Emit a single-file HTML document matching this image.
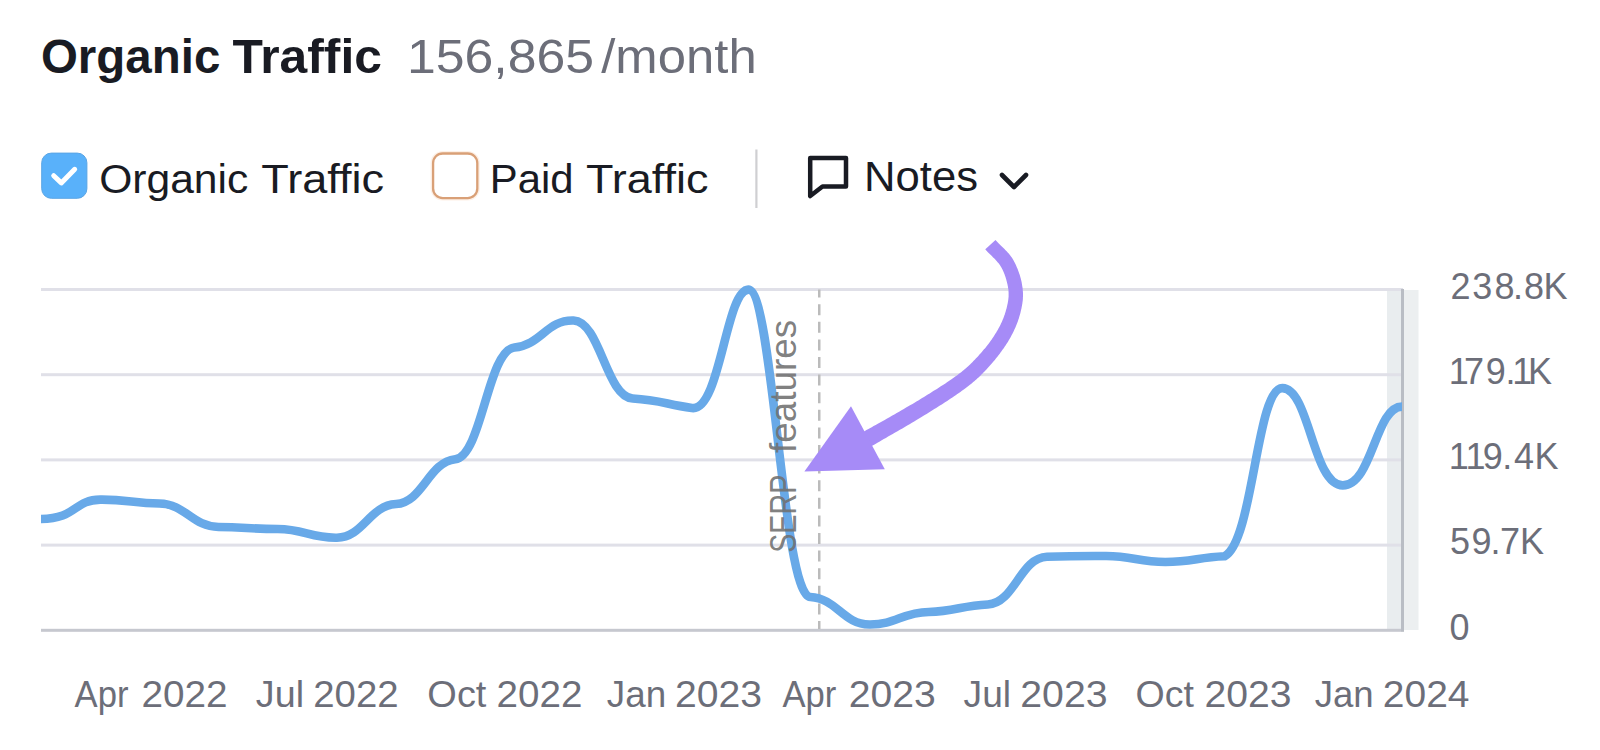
<!DOCTYPE html>
<html lang="en">
<head>
<meta charset="utf-8">
<title>Organic Traffic</title>
<style>
html,body{margin:0;padding:0;background:#fff;}
body{width:1600px;height:750px;overflow:hidden;font-family:'Liberation Sans', Arial, Helvetica, sans-serif;}
svg{display:block;}
svg text{font-family:'Liberation Sans', Arial, Helvetica, sans-serif;white-space:pre;}
</style>
</head>
<body>
<svg width="1600" height="750" viewBox="0 0 1600 750">
<rect width="1600" height="750" fill="#ffffff"/>
<g id="header">
<text y="72.6" font-size="48.5" fill="#191b23" font-weight="bold"><tspan x="40.94" textLength="179.41" lengthAdjust="spacingAndGlyphs">Organic</tspan> <tspan x="232.57" textLength="149.33" lengthAdjust="spacingAndGlyphs">Traffic</tspan></text>
<text y="72.7" font-size="48" fill="#6c6e79"><tspan x="406.94" textLength="187.02" lengthAdjust="spacingAndGlyphs">156,865</tspan><tspan x="601.25" textLength="155.41" lengthAdjust="spacingAndGlyphs">/month</tspan></text>
</g>
<g id="legend">
<rect x="41.7" y="153.1" width="45.2" height="45.2" rx="9.6" fill="#59b1fa" stroke="#5ba5e4" stroke-width="1"/>
<path d="M53.7,175.7 L61.3,182.9 L74.7,169.3" fill="none" stroke="#fff" stroke-width="5" stroke-linecap="round" stroke-linejoin="round"/>
<text y="192.8" font-size="41.5" fill="#191b23"><tspan x="99.15" textLength="149.2" lengthAdjust="spacingAndGlyphs">Organic</tspan> <tspan x="261.31" textLength="122.77" lengthAdjust="spacingAndGlyphs">Traffic</tspan></text>
<rect x="433.1" y="153.5" width="44.2" height="44.6" rx="9.6" fill="none" stroke="#fdf0e6" stroke-width="5"/>
<rect x="433.1" y="153.5" width="44.2" height="44.6" rx="9.6" fill="#fff" stroke="#d9a077" stroke-width="2.3"/>
<text y="192.8" font-size="41.5" fill="#191b23"><tspan x="489.77" textLength="83.82" lengthAdjust="spacingAndGlyphs">Paid</tspan> <tspan x="585.92" textLength="122.47" lengthAdjust="spacingAndGlyphs">Traffic</tspan></text>
<rect x="755.3" y="149.5" width="2.2" height="58.5" fill="#cfcfd2"/>
<path d="M810.2,158.1 H846 V186.5 H822.5 L810.2,196 Z" fill="none" stroke="#191b23" stroke-width="4.5" stroke-linejoin="round"/>
<text y="190.7" font-size="42.5" fill="#191b23"><tspan x="864.12" textLength="113.96" lengthAdjust="spacingAndGlyphs">Notes</tspan></text>
<path d="M1002,175 L1014,187 L1026,175" fill="none" stroke="#191b23" stroke-width="4.6" stroke-linecap="round" stroke-linejoin="round"/>
</g>
<g id="chart">
<rect x="1387" y="289" width="15" height="341" fill="#e9edef"/>
<rect x="1403.5" y="290" width="15" height="340" fill="#eceff0"/>
<rect x="41" y="288.0" width="1362" height="3" fill="#e0e0e8"/>
<rect x="41" y="373.2" width="1362" height="3" fill="#e0e0e8"/>
<rect x="41" y="458.4" width="1362" height="3" fill="#e0e0e8"/>
<rect x="41" y="543.6" width="1362" height="3" fill="#e0e0e8"/>
<rect x="41" y="628.8" width="1363" height="3" fill="#c6c8cf"/>
<rect x="1401" y="289" width="3" height="342.5" fill="#b9bdc4"/>
<line x1="819.25" y1="289.6" x2="819.25" y2="629" stroke="#bbbbbb" stroke-width="2.5" stroke-dasharray="11 6.6" stroke-dashoffset="3"/>
<path d="M41.00,519.00C76.50,519.00 73.55,499.88 100.17,499.60C126.80,499.32 132.72,503.01 159.35,503.50C185.98,503.99 191.89,526.54 218.52,527.00C245.15,527.46 251.07,528.81 277.70,529.00C304.32,529.19 310.24,538.15 336.87,537.70C363.50,537.25 369.42,505.41 396.04,504.00C422.67,502.59 428.59,462.02 455.22,459.20C481.85,456.38 487.76,350.00 514.39,347.50C541.02,345.00 546.94,319.58 573.57,320.50C600.19,321.42 606.11,396.93 632.74,398.50C659.37,400.07 665.28,404.01 691.91,408.00C720.11,412.23 725.75,290.28 748.30,289.60C773.08,288.86 782.38,595.61 810.26,597.00C836.89,598.33 842.81,624.23 869.43,624.50C896.06,624.77 901.98,612.36 928.61,612.00C955.24,611.64 961.15,605.50 987.78,604.50C1014.41,603.50 1020.33,557.57 1046.96,556.70C1073.58,555.83 1079.50,555.90 1106.13,556.00C1132.76,556.10 1138.68,561.99 1165.30,562.00C1191.93,562.01 1197.85,557.37 1224.48,556.30C1253.49,541.79 1256.39,387.32 1282.50,388.10C1309.65,388.91 1312.66,485.40 1342.83,485.40C1372.41,485.40 1375.37,406.60 1402.00,406.60" fill="none" stroke="#68a9e8" stroke-width="8.6" stroke-linecap="butt" stroke-linejoin="round"/>
<text transform="translate(796.3,551.3) rotate(-90)" font-size="36.5" fill="#707070" fill-opacity="0.9"><tspan x="-1.56" textLength="77.64" lengthAdjust="spacingAndGlyphs">SERP</tspan> <tspan x="98.3" textLength="133.1" lengthAdjust="spacingAndGlyphs">features</tspan></text>
<path d="M985.3,249.3L986.0,250.2L986.8,251.0L987.6,251.9L988.4,252.7L989.2,253.5L990.0,254.3L990.8,255.1L991.6,255.8L992.3,256.6L993.1,257.4L993.8,258.1L994.6,258.8L995.3,259.5L995.9,260.3L996.6,261.0L997.2,261.7L997.8,262.4L998.4,263.1L999.0,263.8L999.5,264.5L1000.0,265.3L1000.5,266.0L1000.9,266.7L1001.4,267.4L1001.8,268.2L1002.2,269.1L1002.7,270.0L1003.1,270.9L1003.5,271.8L1003.9,272.8L1004.3,273.8L1004.7,274.7L1005.0,275.7L1005.4,276.8L1005.7,277.8L1006.0,278.8L1006.3,279.8L1006.6,280.9L1006.9,281.9L1007.1,282.9L1007.4,283.9L1007.6,284.9L1007.8,286.0L1008.0,286.9L1008.1,287.9L1008.3,288.9L1008.4,289.8L1008.5,290.7L1008.5,291.6L1008.6,292.5L1008.6,293.3L1008.6,294.2L1008.6,295.0L1008.6,295.9L1008.6,296.8L1008.5,297.6L1008.4,298.5L1008.3,299.4L1008.2,300.2L1008.1,301.1L1007.9,302.0L1007.8,302.8L1007.6,303.7L1007.4,304.6L1007.2,305.5L1007.0,306.4L1006.8,307.3L1006.6,308.2L1006.3,309.2L1006.0,310.1L1005.8,311.0L1005.5,312.0L1005.2,312.9L1004.9,313.8L1004.7,314.7L1004.3,315.6L1004.0,316.4L1003.7,317.3L1003.4,318.2L1003.0,319.1L1002.6,320.0L1002.2,320.9L1001.9,321.8L1001.4,322.7L1001.0,323.6L1000.6,324.5L1000.1,325.4L999.7,326.3L999.2,327.2L998.7,328.1L998.2,329.0L997.7,329.9L997.2,330.8L996.6,331.7L996.1,332.7L995.5,333.6L994.9,334.6L994.3,335.5L993.7,336.5L993.0,337.4L992.3,338.4L991.7,339.4L990.9,340.4L990.2,341.4L989.5,342.4L988.8,343.4L988.0,344.4L987.2,345.4L986.4,346.4L985.7,347.4L984.9,348.4L984.0,349.3L983.2,350.3L982.4,351.3L981.6,352.2L980.8,353.2L979.9,354.1L979.1,355.1L978.3,356.0L977.4,356.9L976.6,357.8L975.8,358.6L975.0,359.5L974.2,360.3L973.4,361.1L972.6,361.9L971.8,362.7L971.0,363.5L970.3,364.2L969.5,365.0L968.7,365.7L967.9,366.5L967.0,367.2L966.2,368.0L965.3,368.7L964.4,369.5L963.5,370.3L962.5,371.1L961.5,371.9L960.4,372.7L959.3,373.6L958.1,374.4L956.9,375.4L955.6,376.3L954.3,377.2L952.9,378.2L951.5,379.2L950.0,380.2L948.5,381.3L947.0,382.3L945.4,383.4L943.8,384.4L942.1,385.5L940.4,386.6L938.7,387.7L936.9,388.9L935.1,390.0L933.3,391.1L931.5,392.3L929.7,393.4L927.8,394.6L925.9,395.7L924.0,396.9L922.1,398.0L920.2,399.2L918.3,400.4L916.4,401.5L914.5,402.7L912.5,403.9L910.5,405.1L908.3,406.3L906.1,407.6L903.8,409.0L901.5,410.3L899.1,411.7L896.7,413.0L894.3,414.4L891.9,415.8L889.5,417.2L887.1,418.5L884.7,419.9L882.4,421.2L880.1,422.5L877.8,423.7L875.7,424.9L873.6,426.1L871.7,427.2L869.8,428.2L868.0,429.2L866.4,430.1L864.9,431.0L863.6,431.8L862.4,432.4L861.4,433.0L860.4,433.5L859.7,434.0L859.0,434.4L858.4,434.7L857.9,435.0L857.5,435.3L857.1,435.5L856.9,435.6L856.6,435.8L856.4,435.9L856.3,436.0L856.1,436.1L856.0,436.1L855.9,436.2L855.9,436.2L855.8,436.2L855.8,436.3L855.7,436.3L855.6,436.4L855.4,436.5L855.1,436.7L854.8,436.8L863.2,451.2L863.5,451.0L863.8,450.8L864.0,450.7L864.2,450.5L864.4,450.4L864.5,450.3L864.7,450.3L864.8,450.2L864.8,450.2L864.8,450.2L864.9,450.1L865.0,450.1L865.1,450.0L865.3,449.9L865.5,449.7L865.9,449.5L866.3,449.3L866.7,449.0L867.3,448.7L868.0,448.3L868.7,447.9L869.6,447.3L870.7,446.7L871.8,446.0L873.1,445.3L874.6,444.4L876.2,443.5L877.9,442.5L879.8,441.5L881.7,440.3L883.8,439.1L885.9,437.9L888.1,436.6L890.4,435.3L892.7,434.0L895.1,432.6L897.5,431.2L899.9,429.8L902.4,428.4L904.8,427.0L907.2,425.6L909.6,424.2L911.9,422.8L914.2,421.4L916.5,420.1L918.6,418.8L920.7,417.5L922.7,416.3L924.7,415.1L926.6,413.9L928.5,412.7L930.4,411.5L932.4,410.3L934.3,409.1L936.2,407.9L938.0,406.7L939.9,405.6L941.8,404.4L943.6,403.2L945.4,402.0L947.2,400.9L948.9,399.7L950.7,398.6L952.4,397.4L954.1,396.3L955.7,395.2L957.3,394.1L958.9,393.0L960.4,391.9L961.9,390.8L963.4,389.8L964.8,388.7L966.1,387.7L967.4,386.7L968.7,385.7L969.9,384.8L971.0,383.9L972.2,383.0L973.2,382.1L974.3,381.2L975.3,380.3L976.3,379.4L977.2,378.6L978.2,377.7L979.1,376.9L980.0,376.0L980.9,375.2L981.7,374.3L982.6,373.4L983.4,372.6L984.3,371.7L985.1,370.8L986.0,369.9L986.8,369.0L987.7,368.1L988.6,367.1L989.5,366.1L990.4,365.1L991.3,364.1L992.2,363.1L993.0,362.0L993.9,361.0L994.8,359.9L995.7,358.8L996.5,357.8L997.4,356.7L998.3,355.6L999.1,354.5L999.9,353.4L1000.7,352.3L1001.5,351.2L1002.3,350.1L1003.1,349.0L1003.9,347.9L1004.6,346.8L1005.4,345.7L1006.1,344.6L1006.8,343.5L1007.5,342.5L1008.1,341.4L1008.8,340.3L1009.4,339.3L1010.0,338.2L1010.6,337.2L1011.2,336.1L1011.7,335.1L1012.3,334.0L1012.8,333.0L1013.3,331.9L1013.8,330.9L1014.3,329.8L1014.8,328.8L1015.3,327.7L1015.7,326.7L1016.2,325.6L1016.6,324.6L1017.0,323.5L1017.4,322.4L1017.8,321.4L1018.2,320.3L1018.5,319.3L1018.9,318.2L1019.2,317.1L1019.5,316.0L1019.8,315.0L1020.1,314.0L1020.4,312.9L1020.6,311.9L1020.9,310.8L1021.1,309.7L1021.4,308.7L1021.6,307.6L1021.8,306.5L1022.0,305.4L1022.2,304.3L1022.4,303.2L1022.5,302.1L1022.7,301.0L1022.8,299.9L1022.9,298.7L1022.9,297.6L1023.0,296.4L1023.0,295.2L1023.0,294.1L1023.0,292.9L1022.9,291.7L1022.8,290.5L1022.7,289.3L1022.6,288.1L1022.4,286.9L1022.2,285.7L1022.0,284.5L1021.8,283.2L1021.6,282.0L1021.3,280.8L1021.0,279.5L1020.7,278.3L1020.3,277.1L1020.0,275.8L1019.6,274.6L1019.2,273.4L1018.8,272.2L1018.3,270.9L1017.9,269.7L1017.4,268.5L1016.9,267.4L1016.4,266.2L1015.9,265.0L1015.4,263.9L1014.8,262.8L1014.2,261.7L1013.6,260.6L1013.0,259.4L1012.3,258.3L1011.6,257.3L1010.8,256.2L1010.1,255.2L1009.3,254.3L1008.5,253.3L1007.7,252.4L1006.9,251.6L1006.1,250.7L1005.3,249.9L1004.5,249.0L1003.7,248.2L1002.9,247.5L1002.1,246.7L1001.3,245.9L1000.5,245.2L999.8,244.4L999.0,243.7L998.3,243.0L997.6,242.3L996.9,241.5L996.2,240.8L995.5,240.1Z" fill="#a68bf7"/>
<polygon points="804.4,471.6 851,406.2 884.8,469.2" fill="#a68bf7"/>
</g>
<g id="y-axis-labels">
<text x="1450.4 1472.2 1494.5 1512.9 1523.9 1543.6" y="298.9" font-size="36" fill="#6c6e79">238.8K</text>
<text x="1448.8 1464.1 1485.7 1505.5 1512.3 1528.0" y="384.2" font-size="36" fill="#6c6e79">179.1K</text>
<text x="1448.8 1465.5 1482.7 1502.2 1514.0 1534.4" y="469.1" font-size="36" fill="#6c6e79">119.4K</text>
<text x="1450.0 1471.6 1490.6 1500.0 1519.9" y="554.4" font-size="36" fill="#6c6e79">59.7K</text>
<text x="1449.5" y="640.0" font-size="36" fill="#6c6e79">0</text>
</g>
<g id="x-axis-labels">
<text y="706.7" font-size="36" fill="#6c6e79"><tspan x="74.6" textLength="53.89" lengthAdjust="spacingAndGlyphs">Apr</tspan> <tspan x="141.55" textLength="86.1" lengthAdjust="spacingAndGlyphs">2022</tspan></text>
<text y="706.7" font-size="36" fill="#6c6e79"><tspan x="255.85" textLength="48.17" lengthAdjust="spacingAndGlyphs">Jul</tspan> <tspan x="313.27" textLength="85.36" lengthAdjust="spacingAndGlyphs">2022</tspan></text>
<text y="706.7" font-size="36" fill="#6c6e79"><tspan x="427.39" textLength="59.02" lengthAdjust="spacingAndGlyphs">Oct</tspan> <tspan x="496.61" textLength="85.84" lengthAdjust="spacingAndGlyphs">2022</tspan></text>
<text y="706.7" font-size="36" fill="#6c6e79"><tspan x="606.88" textLength="59.31" lengthAdjust="spacingAndGlyphs">Jan</tspan> <tspan x="675.03" textLength="87.05" lengthAdjust="spacingAndGlyphs">2023</tspan></text>
<text y="706.7" font-size="36" fill="#6c6e79"><tspan x="782.4" textLength="53.84" lengthAdjust="spacingAndGlyphs">Apr</tspan> <tspan x="848.83" textLength="87.05" lengthAdjust="spacingAndGlyphs">2023</tspan></text>
<text y="706.7" font-size="36" fill="#6c6e79"><tspan x="963.57" textLength="47.53" lengthAdjust="spacingAndGlyphs">Jul</tspan> <tspan x="1020.32" textLength="87.26" lengthAdjust="spacingAndGlyphs">2023</tspan></text>
<text y="706.7" font-size="36" fill="#6c6e79"><tspan x="1135.47" textLength="58.35" lengthAdjust="spacingAndGlyphs">Oct</tspan> <tspan x="1204.43" textLength="87.05" lengthAdjust="spacingAndGlyphs">2023</tspan></text>
<text y="706.7" font-size="36" fill="#6c6e79"><tspan x="1314.73" textLength="58.94" lengthAdjust="spacingAndGlyphs">Jan</tspan> <tspan x="1382.84" textLength="86.65" lengthAdjust="spacingAndGlyphs">2024</tspan></text>
</g>
</svg>
</body>
</html>
